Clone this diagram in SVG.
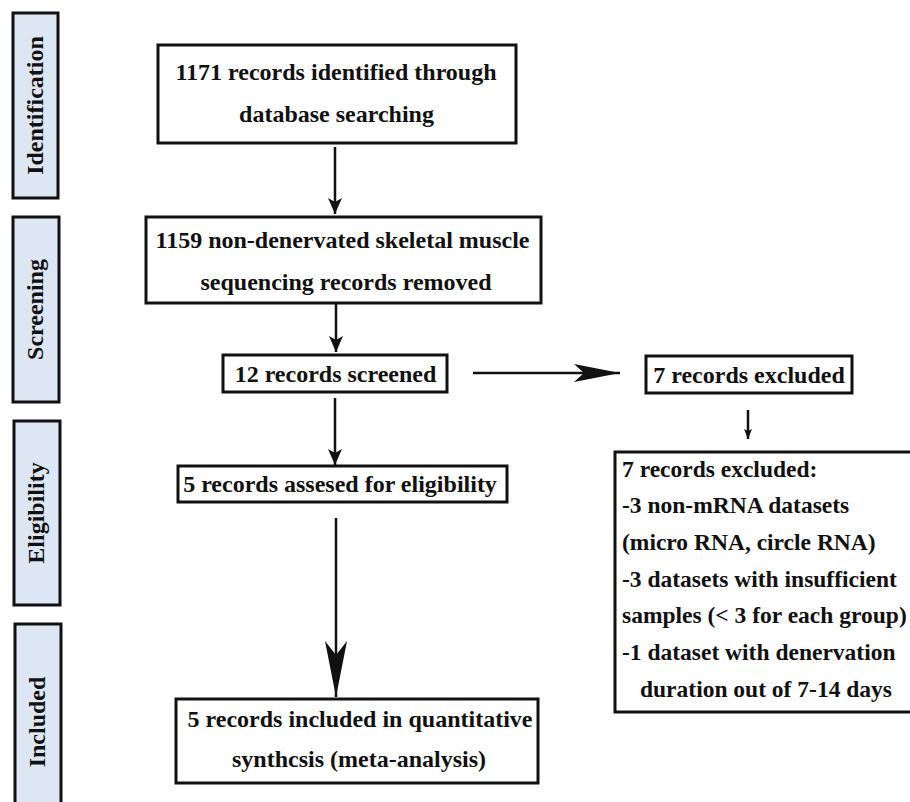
<svg xmlns="http://www.w3.org/2000/svg" width="910" height="802" viewBox="0 0 910 802">
<defs>
<style>
.bar{fill:#dde7f3;stroke:#111;stroke-width:3}
.box{fill:#fff;stroke:#111;stroke-width:3}
.t{font-family:"Liberation Serif","Times New Roman",serif;font-weight:bold;font-size:24px;fill:#111}
.s{font-size:23.5px}
.c{text-anchor:middle}
.ln{stroke:#111;stroke-width:2.5;fill:none}
</style>
<marker id="ah" markerUnits="userSpaceOnUse" viewBox="0 0 16 14" refX="16" refY="7" markerWidth="16" markerHeight="14" orient="auto">
<path d="M0,0 L16,7 L0,14 L4,7 Z" fill="#111"/>
</marker>
<marker id="ahs" markerUnits="userSpaceOnUse" viewBox="0 0 10 8" refX="10" refY="4" markerWidth="10" markerHeight="8" orient="auto">
<path d="M0,0 L10,4 L0,8 L2,4 Z" fill="#111"/>
</marker>
<marker id="ahh" markerUnits="userSpaceOnUse" viewBox="0 0 46 18" refX="46" refY="9" markerWidth="46" markerHeight="18" orient="auto">
<path d="M0,0 L46,9 L0,18 L10,9 Z" fill="#111"/>
</marker>
<marker id="ahb" markerUnits="userSpaceOnUse" viewBox="0 0 56 22" refX="56" refY="11" markerWidth="56" markerHeight="22" orient="auto">
<path d="M0,0 L56,11 L0,22 L14,11 Z" fill="#111"/>
</marker>
</defs>
<rect width="910" height="802" fill="#fff"/>
<g id="phase-identification">
<rect class="bar" x="13" y="13" width="45" height="185"/>
<text class="t c" transform="translate(43,105.5) rotate(-90)">Identification</text>
</g>
<g id="phase-screening">
<rect class="bar" x="13" y="217" width="46" height="185"/>
<text class="t c" transform="translate(43,309.5) rotate(-90)">Screening</text>
</g>
<g id="phase-eligibility">
<rect class="bar" x="14" y="421" width="46" height="184"/>
<text class="t c" transform="translate(44,513) rotate(-90)">Eligibility</text>
</g>
<g id="phase-included">
<rect class="bar" x="15" y="624" width="46" height="200"/>
<text class="t c" transform="translate(45,722) rotate(-90)">Included</text>
</g>
<g id="identified">
<rect class="box" x="158" y="45" width="358" height="98"/>
<text class="t c" x="336" y="80">1171 records identified through</text>
<text class="t c" x="336.5" y="122">database searching</text>
</g>
<g id="removed">
<rect class="box" x="146" y="217" width="395" height="86"/>
<text class="t c" x="342.5" y="248">1159 non-denervated skeletal muscle</text>
<text class="t c" x="346" y="290">sequencing records removed</text>
</g>
<g id="screened">
<rect class="box" x="223" y="355" width="224" height="37"/>
<text class="t c" x="335.5" y="382">12 records screened</text>
</g>
<g id="excluded">
<rect class="box" x="646" y="356" width="206" height="37"/>
<text class="t c" x="749" y="383">7 records excluded</text>
</g>
<g id="excluded-reasons">
<rect class="box" x="615" y="452" width="300" height="260"/>
<text class="t s" x="622" y="477">7 records excluded:</text>
<text class="t s" x="622" y="513">-3 non-mRNA datasets</text>
<text class="t s" x="622" y="550">(micro RNA, circle RNA)</text>
<text class="t s" x="622" y="587">-3 datasets with insufficient</text>
<text class="t s" x="622" y="623">samples (&lt; 3 for each group)</text>
<text class="t s" x="622" y="660">-1 dataset with denervation</text>
<text class="t s c" x="766" y="697">duration out of 7-14 days</text>
</g>
<g id="assessed">
<rect class="box" x="178" y="466" width="329" height="36"/>
<text class="t c" x="340" y="492">5 records assesed for eligibility</text>
</g>
<g id="included">
<rect class="box" x="176" y="699" width="362" height="84"/>
<text class="t c" x="360" y="727">5 records included in quantitative</text>
<text class="t c" x="359" y="767">synthcsis (meta-analysis)</text>
</g>
<g id="connectors">
<line class="ln" x1="335" y1="147" x2="335" y2="214" marker-end="url(#ah)"/>
<line class="ln" x1="336" y1="303" x2="336" y2="352" marker-end="url(#ah)"/>
<line class="ln" x1="335" y1="398" x2="335" y2="465" marker-end="url(#ah)"/>
<line class="ln" x1="336" y1="518" x2="336" y2="697" marker-end="url(#ahb)"/>
<line class="ln" x1="473" y1="373" x2="620" y2="373" marker-end="url(#ahh)"/>
<line class="ln" x1="748" y1="410" x2="748" y2="439" stroke-width="1.5" marker-end="url(#ahs)"/>
</g>
</svg>
